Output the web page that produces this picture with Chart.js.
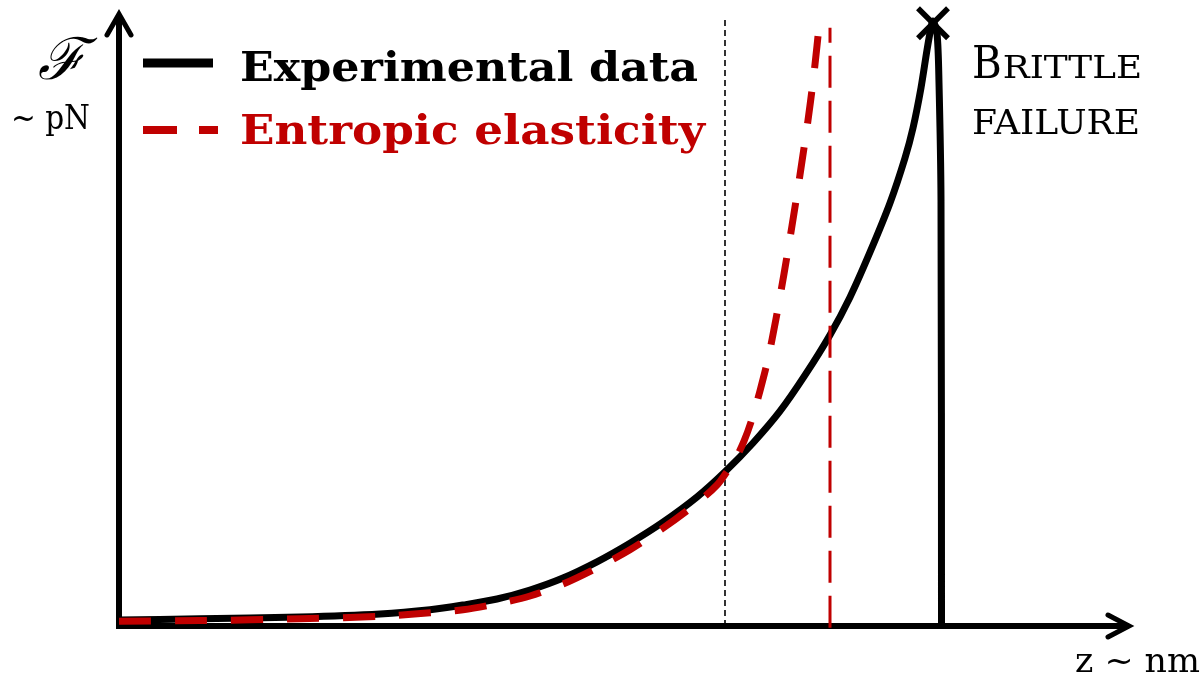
<!DOCTYPE html>
<html>
<head>
<meta charset="utf-8">
<script src="https://cdn.jsdelivr.net/npm/chart.js@4.4.1/dist/chart.umd.min.js"></script>
<style>
  html, body { margin: 0; padding: 0; background: #fff; overflow: hidden; }
  canvas { display: block; }
</style>
</head>
<body>
<canvas id="chart" width="1203" height="678"></canvas>
<script>
// Extension z (arbitrary nm units) and force F (arbitrary pN units)
const expZ = [0, 8.1, 18.1, 26.1, 31.1, 34.4, 37.8, 41.1, 44.4, 47.8, 51.1, 54.4, 57.8, 60.6, 63.4, 66.1, 68.6, 71.1, 73.1, 75.1, 77.1, 78.6, 79.4, 80.2, 80.8, 81.2, 81.4, 81.8, 82.0, 82.2, 82.25];
const expF = [1.0, 1.2, 1.5, 2.0, 2.7, 3.5, 4.5, 6.0, 8.0, 10.7, 13.8, 17.3, 21.5, 25.7, 30.5, 35.8, 41.8, 48.5, 54.8, 62.3, 70.5, 78.0, 83.0, 89.7, 96.0, 99.7, 100.8, 98.8, 90.5, 71.0, 0];

// Entropic (worm-like chain) elasticity model
const entZ = [0, 8.1, 18.1, 26.1, 31.1, 34.4, 37.8, 41.1, 44.4, 47.8, 51.1, 54.4, 57.8, 59.8, 60.9, 61.7, 62.5, 63.3, 64.1, 64.9, 65.7, 66.5, 67.3, 68.1, 68.9, 69.4, 69.8, 69.9];
const entF = [0.8, 0.9, 1.2, 1.6, 2.2, 2.7, 3.7, 5.0, 7.0, 9.7, 12.7, 16.3, 20.5, 23.5, 26.0, 28.0, 30.8, 34.5, 39.2, 44.5, 51.2, 58.7, 66.7, 75.2, 84.3, 90.7, 96.7, 98.3];

// Guide lines: onset of deviation and contour-length asymptote
const onsetZ = [60.6, 60.6];
const onsetF = [0, 101.2];
const contourZ = [71.1, 71.1];
const contourF = [-0.3, 99.7];

const axisMaxZ = 101;
const axisMaxF = 102;

const seriesLabels = ['Experimental data', 'Entropic elasticity'];
const forceSymbol = '\u2131';
const forceUnit = '~ pN';
const extensionLabel = 'z ~ nm';
const failureWords = ['BRITTLE', 'FAILURE'];

const BLACK = '#000000';
const RED = '#c00000';
const SERIF = '"DejaVu Serif", "Liberation Serif", serif';

const toPoints = (xs, ys) => xs.map((x, i) => ({ x, y: ys[i] }));

// Draw text squeezed/stretched horizontally to a given width
function fitText(ctx, text, x, y, font, width) {
  ctx.save();
  ctx.font = font;
  ctx.textAlign = 'left';
  ctx.textBaseline = 'alphabetic';
  const w = ctx.measureText(text).width;
  ctx.translate(x, y);
  ctx.scale(width / w, 1);
  ctx.fillText(text, 0, 0);
  ctx.restore();
}

const decorations = {
  id: 'decorations',
  beforeDatasetsDraw(chart) {
    const { ctx, scales } = chart;
    const x0 = scales.x.getPixelForValue(0);
    const y0 = scales.y.getPixelForValue(0);
    const xEnd = scales.x.getPixelForValue(axisMaxZ);
    const yEnd = scales.y.getPixelForValue(axisMaxF);
    ctx.save();
    ctx.strokeStyle = BLACK;
    ctx.lineWidth = 6;
    ctx.lineCap = 'butt';
    ctx.lineJoin = 'miter';
    // axes
    ctx.beginPath();
    ctx.moveTo(x0 - 3, y0);
    ctx.lineTo(xEnd - 2, y0);
    ctx.moveTo(x0, y0 + 3);
    ctx.lineTo(x0, yEnd + 2);
    ctx.stroke();
    // arrow heads
    ctx.lineWidth = 5;
    ctx.lineCap = 'round';
    ctx.beginPath();
    ctx.moveTo(xEnd - 21, y0 - 11);
    ctx.lineTo(xEnd, y0);
    ctx.lineTo(xEnd - 21, y0 + 11);
    ctx.moveTo(x0 - 12, yEnd + 21);
    ctx.lineTo(x0, yEnd);
    ctx.lineTo(x0 + 12, yEnd + 21);
    ctx.stroke();
    ctx.restore();
  },
  afterDatasetsDraw(chart) {
    const { ctx, scales } = chart;
    ctx.save();

    // failure mark at the force maximum
    let iMax = 0;
    expF.forEach((f, i) => { if (f > expF[iMax]) iMax = i; });
    const px = scales.x.getPixelForValue(expZ[iMax]);
    const py = scales.y.getPixelForValue(expF[iMax]) + 2;
    ctx.strokeStyle = BLACK;
    ctx.lineWidth = 5.5;
    ctx.lineCap = 'butt';
    ctx.beginPath();
    ctx.moveTo(px - 15, py - 15);
    ctx.lineTo(px + 15, py + 15);
    ctx.moveTo(px + 15, py - 15);
    ctx.lineTo(px - 15, py + 15);
    ctx.stroke();

    // legend
    const ds = chart.data.datasets;
    const rows = [
      { d: ds[0], y: 63, lw: 9, base: 81, end: 213, width: 458 },
      { d: ds[1], y: 130, lw: 8, base: 144, end: 218, width: 465 }
    ];
    rows.forEach(r => {
      ctx.save();
      ctx.strokeStyle = r.d.borderColor;
      ctx.lineWidth = r.lw;
      ctx.lineCap = 'butt';
      ctx.setLineDash(r.d.borderDash && r.d.borderDash.length ? [34, 22] : []);
      ctx.beginPath();
      ctx.moveTo(143, r.y);
      ctx.lineTo(r.end, r.y);
      ctx.stroke();
      ctx.restore();
      ctx.fillStyle = r.d.borderColor;
      fitText(ctx, r.d.label, 240, r.base, 'bold 41px ' + SERIF, r.width);
    });

    // axis labels
    ctx.fillStyle = BLACK;
    ctx.save();
    ctx.font = 'italic 58px ' + SERIF;
    ctx.textAlign = 'center';
    ctx.textBaseline = 'middle';
    ctx.fillText(forceSymbol, 62, 64);
    ctx.restore();
    fitText(ctx, forceUnit, 11, 129, '34px ' + SERIF, 79);
    fitText(ctx, extensionLabel, 1075, 672, '34px ' + SERIF, 125);

    // failure annotation in small capitals
    const first = failureWords[0].charAt(0);
    const rest = failureWords[0].slice(1);
    ctx.font = '45px ' + SERIF;
    const wB = ctx.measureText(first).width * 0.9;
    fitText(ctx, first, 972, 78, '45px ' + SERIF, wB);
    fitText(ctx, rest, 972 + wB + 1, 78, '31px ' + SERIF, 1142 - (972 + wB + 1));
    fitText(ctx, failureWords[1], 972, 134, '34px ' + SERIF, 168);

    ctx.restore();
  }
};

new Chart(document.getElementById('chart'), {
  type: 'scatter',
  data: {
    datasets: [
      {
        label: seriesLabels[0],
        data: toPoints(expZ, expF),
        showLine: true,
        borderColor: BLACK,
        borderWidth: 7,
        tension: 0.3,
        borderJoinStyle: 'round',
        pointRadius: 0,
        clip: false,
        order: 2
      },
      {
        label: seriesLabels[1],
        data: toPoints(entZ, entF),
        showLine: true,
        borderColor: RED,
        borderWidth: 7,
        borderDash: [32, 24],
        borderCapStyle: 'butt',
        tension: 0.3,
        pointRadius: 0,
        clip: false,
        order: 1
      },
      {
        label: 'onset',
        data: toPoints(onsetZ, onsetF),
        showLine: true,
        borderColor: BLACK,
        borderWidth: 1.6,
        borderDash: [6, 4],
        pointRadius: 0,
        clip: false,
        order: 3
      },
      {
        label: 'contour',
        data: toPoints(contourZ, contourF),
        showLine: true,
        borderColor: RED,
        borderWidth: 3,
        borderDash: [32, 13],
        pointRadius: 0,
        clip: false,
        order: 0
      }
    ]
  },
  options: {
    responsive: false,
    animation: false,
    events: [],
    layout: { padding: { left: 119, top: 14, right: 1203 - 1129, bottom: 678 - 626 } },
    scales: {
      x: { type: 'linear', min: 0, max: axisMaxZ, display: false },
      y: { type: 'linear', min: 0, max: axisMaxF, display: false }
    },
    plugins: {
      legend: { display: false },
      tooltip: { enabled: false },
      title: { display: false }
    }
  },
  plugins: [decorations]
});
</script>
</body>
</html>
